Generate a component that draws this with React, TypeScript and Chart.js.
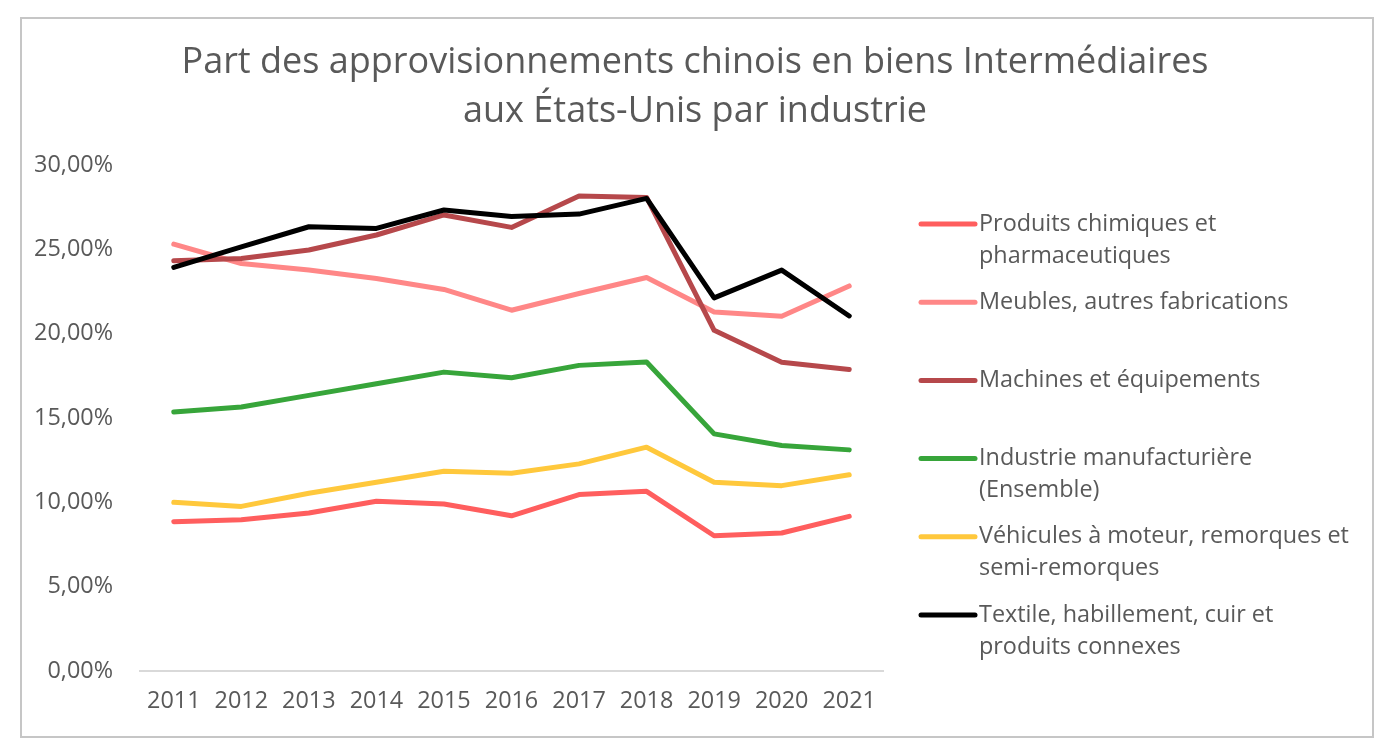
import React, { useEffect, useRef } from "react";
import { Chart, registerables } from "chart.js";

Chart.register(...registerables);

const years = ["2011", "2012", "2013", "2014", "2015", "2016", "2017", "2018", "2019", "2020", "2021"];

const chimiques = [8.85, 8.97, 9.37, 10.06, 9.9, 9.2, 10.46, 10.65, 8.02, 8.18, 9.17];
const meubles = [25.31, 24.16, 23.77, 23.27, 22.62, 21.39, 22.38, 23.33, 21.29, 21.03, 22.83];
const machines = [24.32, 24.46, 24.96, 25.85, 27.04, 26.3, 28.16, 28.08, 20.2, 18.3, 17.87];
const industrie = [15.35, 15.65, 16.34, 17.03, 17.72, 17.39, 18.12, 18.32, 14.06, 13.37, 13.11];
const vehicules = [10.0, 9.76, 10.54, 11.19, 11.84, 11.72, 12.28, 13.27, 11.19, 10.99, 11.63];
const textile = [23.93, 25.15, 26.34, 26.24, 27.33, 26.95, 27.09, 28.02, 22.12, 23.77, 21.05];

const seriesLabels: string[][] = [
  ["Produits chimiques et", "pharmaceutiques"],
  ["Meubles, autres fabrications"],
  ["Machines et équipements"],
  ["Industrie manufacturière", "(Ensemble)"],
  ["Véhicules à moteur, remorques et", "semi-remorques"],
  ["Textile, habillement, cuir et", "produits connexes"],
];
const seriesValues = [chimiques, meubles, machines, industrie, vehicules, textile];
const seriesColors = ["#FF5E5E", "#FF8787", "#B6484B", "#37A53A", "#FFC83C", "#000000"];

const titleLines = ["Part des approvisionnements chinois en biens Intermédiaires", "aux États-Unis par industrie"];

const yMin = 0;
const yMax = 30;
const yStep = 5;

const TEXT = "#595959";
const FONT = '"Open Sans", "Noto Sans", sans-serif';

export default function App() {
  const ref = useRef<HTMLCanvasElement | null>(null);

  useEffect(() => {
    const canvas = ref.current;
    if (!canvas) return;

    const decor = {
      id: "decor",
      afterDraw(chart: any) {
        const ctx = chart.ctx as CanvasRenderingContext2D;
        const ca = chart.chartArea;
        ctx.save();
        // title
        ctx.fillStyle = TEXT;
        ctx.textAlign = "center";
        ctx.textBaseline = "middle";
        ctx.font = `36px ${FONT}`;
        titleLines.forEach((t, i) => ctx.fillText(t, chart.width / 2 - 4, 63 + i * 49));
        // legend
        ctx.textAlign = "left";
        ctx.font = `23.4px ${FONT}`;
        const x0 = ca.right + 38;
        seriesLabels.forEach((lines, i) => {
          const yy = ca.top + 59 + i * 78.2;
          ctx.strokeStyle = seriesColors[i];
          ctx.lineWidth = 5;
          ctx.lineCap = "round";
          ctx.beginPath();
          ctx.moveTo(x0, yy);
          ctx.lineTo(x0 + 54, yy);
          ctx.stroke();
          ctx.fillStyle = TEXT;
          lines.forEach((l, j) => ctx.fillText(l, x0 + 58, yy + j * 32));
        });
        ctx.restore();
      },
    };

    const chart = new Chart(canvas, {
      type: "line",
      data: {
        labels: years,
        datasets: seriesValues.map((vals, i) => ({
          label: seriesLabels[i].join(" "),
          data: vals,
          borderColor: seriesColors[i],
          backgroundColor: seriesColors[i],
          borderWidth: 5,
          borderCapStyle: "round" as const,
          borderJoinStyle: "round" as const,
          pointRadius: 0,
          tension: 0,
          fill: false,
          order: seriesValues.length - i,
        })),
      },
      options: {
        animation: false,
        responsive: false,
        devicePixelRatio: 1,
        layout: { padding: { top: 165, right: 515, left: 0, bottom: 0 } },
        plugins: {
          legend: { display: false },
          title: { display: false },
          tooltip: { enabled: false },
        },
        scales: {
          x: {
            offset: true,
            grid: { display: false, drawTicks: false, offset: true },
            border: { display: true, color: "#D9D9D9", width: 2 },
            ticks: {
              color: TEXT,
              font: { family: FONT, size: 23.4 },
              padding: 16,
              maxRotation: 0,
              autoSkip: false,
            },
            afterFit: (s: any) => {
              s.height = 83;
            },
          },
          y: {
            min: yMin,
            max: yMax,
            grid: { display: false, drawTicks: false },
            border: { display: false },
            ticks: {
              stepSize: yStep,
              color: TEXT,
              font: { family: FONT, size: 23.4 },
              padding: 27,
              callback: (v: any) => `${Number(v).toFixed(2).replace(".", ",")}%`,
            },
            afterFit: (s: any) => {
              s.width = 140;
            },
          },
        },
      },
      plugins: [decor],
    });

    return () => chart.destroy();
  }, []);

  return (
    <div style={{ position: "fixed", left: 0, top: 0, width: 1398, height: 754, background: "#fff" }}>
      <div
        style={{
          position: "absolute",
          left: 20,
          top: 17,
          width: 1354,
          height: 721,
          boxSizing: "border-box",
          border: "2px solid #C6C6C6",
        }}
      />
      <canvas ref={ref} width={1398} height={754} style={{ position: "absolute", left: 0, top: 0, width: 1398, height: 754 }} />
    </div>
  );
}
